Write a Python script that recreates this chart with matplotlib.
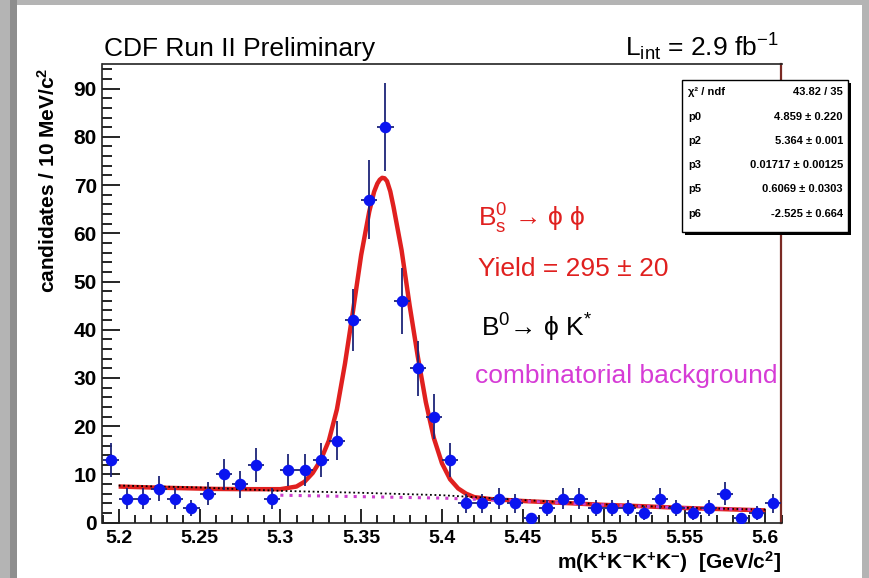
import matplotlib
matplotlib.use("Agg")
import matplotlib.pyplot as plt
from matplotlib.patches import Rectangle
from matplotlib.ticker import FixedLocator, MultipleLocator

plt.rcParams['font.family'] = ['Liberation Sans', 'DejaVu Sans']
plt.rcParams['mathtext.fontset'] = 'custom'
plt.rcParams['mathtext.rm'] = 'Liberation Sans'
plt.rcParams['mathtext.it'] = 'Liberation Sans:italic'
plt.rcParams['mathtext.bf'] = 'Liberation Sans:bold'

# ---------------- data ----------------
bin_centers = [5.195, 5.205, 5.215, 5.225, 5.235, 5.245, 5.255, 5.265, 5.275, 5.285,
               5.295, 5.305, 5.315, 5.325, 5.335, 5.345, 5.355, 5.365, 5.375, 5.385,
               5.395, 5.405, 5.415, 5.425, 5.435, 5.445, 5.455, 5.465, 5.475, 5.485,
               5.495, 5.505, 5.515, 5.525, 5.535, 5.545, 5.555, 5.565, 5.575, 5.585,
               5.595, 5.605]
counts = [13, 5, 5, 7, 5, 3, 6, 10, 8, 12,
          5, 11, 11, 13, 17, 42, 67, 82, 46, 32,
          22, 13, 4, 4, 5, 4, 1, 3, 5, 5,
          3, 3, 3, 2, 5, 3, 2, 3, 6, 1,
          2, 4]
count_err = [3.6, 2.2, 2.2, 2.6, 2.2, 1.7, 2.4, 3.2, 2.8, 3.5,
             2.2, 3.3, 3.3, 3.6, 4.1, 6.5, 8.2, 9.1, 6.8, 5.7,
             4.7, 3.6, 2.0, 2.0, 2.2, 2.0, 1.0, 1.7, 2.2, 2.2,
             1.7, 1.7, 1.7, 1.4, 2.2, 1.7, 1.4, 1.7, 2.4, 1.0,
             1.4, 2.0]
bin_half_width = 0.005

fit_x = [5.200, 5.220, 5.240, 5.260, 5.280, 5.300, 5.310, 5.315, 5.320, 5.325,
         5.330, 5.335, 5.340, 5.345, 5.350, 5.355, 5.358, 5.360, 5.3615, 5.363,
         5.3645, 5.366, 5.368, 5.370, 5.375, 5.380, 5.385, 5.390, 5.395, 5.400,
         5.405, 5.410, 5.415, 5.420, 5.430, 5.450, 5.475, 5.500, 5.525, 5.550,
         5.575, 5.600]
fit_y = [7.5, 7.3, 7.15, 7.0, 6.95, 6.95, 7.5, 8.5, 10.3, 13.0,
         17.0, 23.5, 33.0, 44.0, 55.5, 64.5, 68.6, 70.3, 71.1, 71.5,
         71.4, 70.8, 68.7, 65.5, 56.5, 45.0, 34.5, 25.0, 17.5, 12.3,
         9.0, 7.1, 6.0, 5.3, 4.9, 4.5, 4.1, 3.7, 3.4, 3.05,
         2.8, 2.55]

bkg_b0_x = [5.20, 5.25, 5.30, 5.35, 5.40, 5.45, 5.50, 5.55, 5.60]
bkg_b0_y = [7.7, 7.3, 6.6, 6.2, 5.7, 4.7, 3.8, 3.1, 2.7]
bkg_comb_x = [5.30, 5.35, 5.40, 5.45, 5.50, 5.55, 5.60]
bkg_comb_y = [5.7, 5.4, 5.1, 4.5, 3.7, 3.1, 2.6]

x_ticks = [5.2, 5.25, 5.3, 5.35, 5.4, 5.45, 5.5, 5.55, 5.6]
x_tick_labels = ['5.2', '5.25', '5.3', '5.35', '5.4', '5.45', '5.5', '5.55', '5.6']
y_ticks = [0, 10, 20, 30, 40, 50, 60, 70, 80, 90]
y_tick_labels = ['0', '10', '20', '30', '40', '50', '60', '70', '80', '90']

stat_names = ['χ² / ndf', 'p0', 'p2', 'p3', 'p5', 'p6']
stat_values = ['43.82 / 35', '4.859 ± 0.220', '5.364 ± 0.001',
               '0.01717 ± 0.00125', '0.6069 ± 0.0303', '-2.525 ± 0.664']

# ---------------- figure ----------------
W, H = 870, 578
fig = plt.figure(figsize=(W / 100, H / 100), dpi=100)
fig.patch.set_facecolor('#b4b4b4')


def fx(x):
    return x / W


def fy(y):
    return 1 - y / H


# slide-like frame
fig.patches.append(Rectangle((fx(10), 0), fx(7), 1, transform=fig.transFigure,
                             facecolor='#8e8e8e', edgecolor='none', zorder=-10))
fig.patches.append(Rectangle((fx(17), 0), fx(845), fy(5), transform=fig.transFigure,
                             facecolor='white', edgecolor='none', zorder=-9))

ax_l, ax_r, ax_t, ax_b = 102.5, 781.5, 63.5, 522.7
ax = fig.add_axes([fx(ax_l), fy(ax_b), fx(ax_r - ax_l), (ax_b - ax_t) / H])
ax.set_facecolor('white')

red = '#e0201f'
ax.plot(fit_x, fit_y, color=red, lw=3.2, solid_capstyle='butt',
        solid_joinstyle='round', zorder=3)
ax.plot(bkg_b0_x, bkg_b0_y, color='black', lw=1.3, ls=(0, (1, 1.5)), zorder=4)
ax.plot(bkg_comb_x, bkg_comb_y, color='#cc3fcc', lw=2.2, ls=(0, (1, 2)), zorder=4)
ax.errorbar(bin_centers, counts, xerr=bin_half_width, yerr=count_err, fmt='o',
            color='#0a14f0', markersize=7.3, ecolor='#1c2478', elinewidth=1.3,
            capsize=0, zorder=5)

ax.set_xlim(5.19, 5.61)
ax.set_ylim(0, 95.2)
ax.xaxis.set_major_locator(FixedLocator(x_ticks))
ax.set_xticklabels(x_tick_labels)
ax.xaxis.set_minor_locator(MultipleLocator(0.01))
ax.yaxis.set_major_locator(FixedLocator(y_ticks))
ax.set_yticklabels(y_tick_labels)
ax.yaxis.set_minor_locator(MultipleLocator(2))

ax.tick_params(axis='both', which='both', direction='in', top=False, right=False,
               color='black', width=1.2)
ax.tick_params(axis='x', which='major', length=10, pad=5, labelsize=14)
ax.tick_params(axis='x', which='minor', length=5.5)
ax.tick_params(axis='y', which='major', length=13, pad=4, labelsize=15)
ax.tick_params(axis='y', which='minor', length=7)
for lab in ax.get_xticklabels() + ax.get_yticklabels():
    lab.set_fontweight('bold')

for s in ['left', 'bottom', 'top']:
    ax.spines[s].set_color('#222222')
    ax.spines[s].set_linewidth(1.2)
ax.spines['right'].set_color('#7a2a24')
ax.spines['right'].set_linewidth(1.6)

# axis titles
fig.text(fx(48), fy(68), r'candidates / 10 MeV/c$^{\mathbf{2}}$', rotation=90,
         ha='center', va='top', fontsize=15, fontweight='bold')
fig.text(fx(781), fy(569),
         r'm(K$^{\mathbf{+}}$K$^{\mathbf{-}}$K$^{\mathbf{+}}$K$^{\mathbf{-}}$)  [GeV/c$^{\mathbf{2}}$]',
         ha='right', va='baseline', fontsize=15, fontweight='bold')

# headers
fig.text(fx(104), fy(56), 'CDF Run II Preliminary', ha='left', va='baseline', fontsize=19)
fig.text(fx(779), fy(56), r'L$_{\mathregular{int}}$ = 2.9 fb$^{\mathregular{-1}}$',
         ha='right', va='baseline', fontsize=19)

# annotations
fam = ['Liberation Sans', 'DejaVu Sans']
fig.text(fx(478), fy(227), r'B$^{\mathregular{0}}_{\mathregular{s}}$ → ϕ ϕ', ha='left',
         va='baseline', fontsize=19, color=red, family=fam)
fig.text(fx(478), fy(276), 'Yield = 295 ± 20', ha='left', va='baseline',
         fontsize=19, color=red, family=fam)
fig.text(fx(481), fy(337), r'B$^{\mathregular{0}}$→ ϕ K$^{\mathregular{*}}$', ha='left',
         va='baseline', fontsize=19, color='black', family=fam)
fig.text(fx(475), fy(383), 'combinatorial background', ha='left', va='baseline',
         fontsize=19, color='#d63cd6', family=fam)

# stats box
bx0, by0, bx1, by1 = 681.7, 80, 848, 231.7
fig.patches.append(Rectangle((fx(bx0 + 3), fy(by1 + 3)), fx(bx1 - bx0), (by1 - by0) / H,
                             transform=fig.transFigure, facecolor='black',
                             edgecolor='none', zorder=5))
fig.patches.append(Rectangle((fx(bx0), fy(by1)), fx(bx1 - bx0), (by1 - by0) / H,
                             transform=fig.transFigure, facecolor='white',
                             edgecolor='black', lw=1.0, zorder=6))
row_y = [91.7, 116.7, 141, 165, 189.5, 214]
for name, val, ry in zip(stat_names, stat_values, row_y):
    fig.text(fx(688), fy(ry), name, ha='left', va='center', fontsize=8,
             fontweight='bold', zorder=7, family=fam)
    fig.text(fx(843), fy(ry), val, ha='right', va='center', fontsize=8,
             fontweight='bold', zorder=7, family=fam)

fig.savefig('out.png', dpi=100, facecolor=fig.get_facecolor())
